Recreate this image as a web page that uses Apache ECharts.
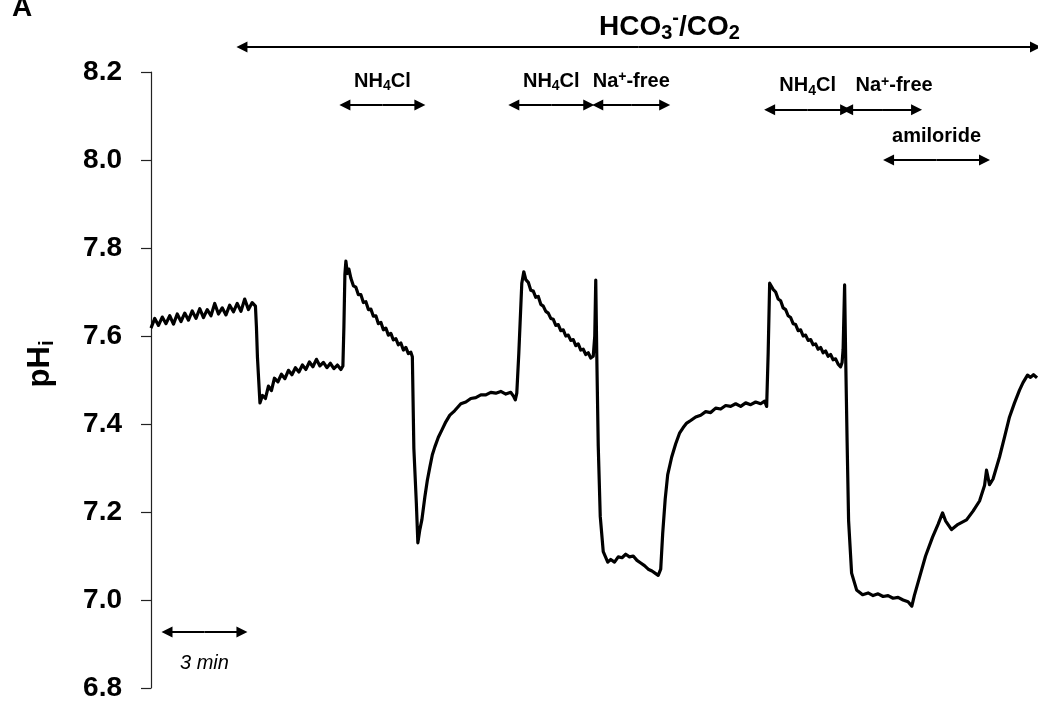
<!DOCTYPE html>
<html>
<head>
<meta charset="utf-8">
<title>pHi trace</title>
<script src="https://cdn.jsdelivr.net/npm/echarts@6/dist/echarts.min.js"></script>
<style>
  html, body { margin: 0; padding: 0; background: #fff; }
  #main { width: 1038px; height: 713px; }
</style>
</head>
<body>
<div id="main"></div>
<script>
// pHi trace, [minutes, pH]
var segBaseline = [
  [0.00,7.618],[0.15,7.640],[0.30,7.624],[0.45,7.643],[0.60,7.628],[0.75,7.646],[0.90,7.627],
  [1.05,7.650],[1.20,7.633],[1.35,7.652],[1.50,7.636],[1.65,7.657],[1.80,7.640],[1.95,7.662],
  [2.10,7.642],[2.25,7.660],[2.40,7.646],[2.55,7.674],[2.70,7.650],[2.85,7.664],[3.00,7.648],
  [3.15,7.670],[3.30,7.655],[3.45,7.674],[3.60,7.656],[3.75,7.684],[3.90,7.660],[4.05,7.676],
  [4.18,7.668]
];
var segCO2 = [
  [4.22,7.620],[4.26,7.552],[4.36,7.448],[4.46,7.465],[4.58,7.458],[4.70,7.486],[4.82,7.476],
  [4.94,7.504],[5.08,7.496],[5.22,7.513],[5.36,7.503],[5.50,7.522],[5.64,7.512],[5.78,7.528],
  [5.92,7.518],[6.06,7.534],[6.20,7.524],[6.34,7.541],[6.48,7.530],[6.62,7.547],[6.76,7.532],
  [6.90,7.540],[7.04,7.528],[7.18,7.538],[7.32,7.526],[7.46,7.534],[7.60,7.524],[7.68,7.532]
];
var segNH4Cl1 = [
  [7.72,7.620],[7.76,7.740],[7.80,7.770],[7.86,7.742],[7.92,7.752],[8.00,7.731],[8.10,7.714],
  [8.20,7.711],[8.30,7.694],[8.40,7.694],[8.50,7.676],[8.60,7.678],[8.70,7.660],[8.80,7.661],
  [8.90,7.645],[9.00,7.646],[9.10,7.628],[9.20,7.631],[9.30,7.614],[9.40,7.618],[9.50,7.602],
  [9.60,7.606],[9.70,7.591],[9.80,7.594],[9.90,7.580],[10.00,7.584],[10.10,7.568],[10.20,7.574],
  [10.30,7.560],[10.40,7.563],[10.46,7.553]
];
var segRecovery1 = [
  [10.52,7.345],[10.62,7.220],[10.68,7.130],[10.76,7.160],[10.84,7.182],[10.96,7.234],[11.06,7.272],
  [11.16,7.302],[11.26,7.330],[11.36,7.348],[11.50,7.370],[11.64,7.386],[11.80,7.405],[11.96,7.420],
  [12.15,7.430],[12.40,7.446],[12.60,7.450],[12.80,7.458],[13.00,7.460],[13.20,7.466],[13.40,7.466],
  [13.60,7.472],[13.80,7.470],[14.00,7.474],[14.20,7.468],[14.40,7.472],[14.52,7.462],[14.58,7.455]
];
var segNH4Cl2 = [
  [14.64,7.470],[14.72,7.560],[14.84,7.720],[14.92,7.746],[15.00,7.728],[15.10,7.722],[15.20,7.704],
  [15.30,7.702],[15.40,7.688],[15.50,7.690],[15.60,7.672],[15.70,7.668],[15.80,7.656],[15.90,7.652],
  [16.00,7.640],[16.10,7.638],[16.20,7.624],[16.30,7.626],[16.40,7.612],[16.50,7.614],[16.60,7.600],
  [16.70,7.602],[16.80,7.590],[16.90,7.592],[17.00,7.578],[17.10,7.582],[17.20,7.568],[17.30,7.570],
  [17.40,7.558],[17.50,7.562],[17.60,7.550],[17.70,7.554]
];
var segNaFree1 = [
  [17.76,7.600],[17.80,7.727],[17.84,7.560],[17.90,7.350],[17.98,7.190],[18.10,7.110],[18.28,7.086],
  [18.40,7.092],[18.55,7.086],[18.70,7.098],[18.85,7.096],[19.00,7.104],[19.15,7.098],[19.30,7.100],
  [19.45,7.090],[19.60,7.084],[19.75,7.078],[19.90,7.070],[20.05,7.066],[20.20,7.060],[20.30,7.056]
];
var segRecovery2 = [
  [20.40,7.070],[20.48,7.152],[20.58,7.230],[20.68,7.285],[20.84,7.325],[21.00,7.355],[21.16,7.380],
  [21.30,7.392],[21.44,7.402],[21.60,7.408],[21.80,7.416],[22.00,7.420],[22.20,7.428],[22.40,7.426],
  [22.60,7.436],[22.80,7.434],[23.00,7.442],[23.20,7.440],[23.40,7.446],[23.60,7.440],[23.80,7.448],
  [24.00,7.444],[24.20,7.450],[24.40,7.446],[24.56,7.452],[24.64,7.440]
];
var segNH4Cl3 = [
  [24.70,7.560],[24.76,7.720],[24.82,7.718],[24.90,7.706],[25.00,7.700],[25.10,7.684],[25.20,7.680],
  [25.30,7.664],[25.40,7.660],[25.50,7.646],[25.60,7.642],[25.70,7.628],[25.80,7.626],[25.90,7.612],
  [26.00,7.614],[26.10,7.600],[26.20,7.602],[26.30,7.590],[26.40,7.592],[26.50,7.580],[26.60,7.582],
  [26.70,7.570],[26.80,7.574],[26.90,7.562],[27.00,7.566],[27.10,7.554],[27.20,7.558],[27.30,7.546],
  [27.40,7.548],[27.50,7.536],[27.60,7.530],[27.66,7.540]
];
var segNaFree2 = [
  [27.70,7.570],[27.76,7.716],[27.80,7.560],[27.86,7.360],[27.92,7.180],[28.04,7.061],[28.24,7.023],
  [28.48,7.012],[28.70,7.016],[28.90,7.010],[29.10,7.014],[29.30,7.008],[29.50,7.010],[29.70,7.004],
  [29.90,7.006],[30.10,7.000],[30.30,6.996],[30.45,6.986],[30.55,7.010],[30.76,7.052],[31.00,7.100],
  [31.28,7.143],[31.50,7.172],[31.68,7.198],[31.80,7.180],[32.04,7.160],[32.30,7.172],[32.64,7.182],
  [32.90,7.202],[33.16,7.225],[33.36,7.260],[33.44,7.295],[33.56,7.262],[33.70,7.275],[33.96,7.325],
  [34.16,7.370],[34.36,7.416],[34.56,7.448],[34.76,7.477],[34.90,7.494],[35.08,7.511],[35.20,7.506],
  [35.32,7.512],[35.46,7.505]
];

// solution changes: [label, start min, end min]
var perfusate = ['HCO3-/CO2', 3.64, 35.4];
var treatments = [
  ['NH4Cl', 7.76, 10.76],
  ['NH4Cl', 14.52, 17.52],
  ['Na+-free', 17.88, 20.56],
  ['NH4Cl', 24.76, 27.8],
  ['Na+-free', 27.88, 30.64],
  ['amiloride', 29.52, 33.36]
];
var scaleBar = ['3 min', 0.64, 3.64];

// layout: pH level of each annotation row
var perfusateLevel = 8.257;
var perfusateLabelAt = 20.75;
var treatmentLevel = [8.125, 8.125, 8.125, 8.114, 8.114, 8.0];
var treatmentDx = [0, 0, 0, 0, 12, 0];
var scaleLevel = 6.927;

var trace = [].concat(segBaseline, segCO2, segNH4Cl1, segRecovery1, segNH4Cl2,
  segNaFree1, segRecovery2, segNH4Cl3, segNaFree2);

var FONT = '"Liberation Sans", Arial, Helvetica, sans-serif';

var richLabels = {
  'NH4Cl': '{b|NH}{s|4}{b|Cl}',
  'Na+-free': '{b|Na}{p|+}{b|-free}',
  'amiloride': '{b|amiloride}',
  'HCO3-/CO2': '{h|HCO}{hs|3}{hp|-}{h|/CO}{hs|2}',
  '3 min': '{it|3 min}'
};
var richStyles = {
  b: { fontFamily: FONT, fontWeight: 'bold', fontSize: 20, color: '#000' },
  s: { fontFamily: FONT, fontWeight: 'bold', fontSize: 14, color: '#000', padding: [11, 0, 0, 0] },
  p: { fontFamily: FONT, fontWeight: 'bold', fontSize: 14, color: '#000', padding: [0, 0, 8, 0] },
  h: { fontFamily: FONT, fontWeight: 'bold', fontSize: 28, color: '#000' },
  hs: { fontFamily: FONT, fontWeight: 'bold', fontSize: 20, color: '#000', padding: [14, 0, 0, 0] },
  hp: { fontFamily: FONT, fontWeight: 'bold', fontSize: 20, color: '#000', padding: [0, 0, 16, 0] },
  it: { fontFamily: FONT, fontStyle: 'italic', fontSize: 20, color: '#000' },
  m: { fontFamily: FONT, fontWeight: 'bold', fontSize: 31, color: '#000' },
  mi: { fontFamily: FONT, fontWeight: 'bold', fontSize: 20, color: '#000', padding: [14, 0, 0, 0] }
};

// each double arrow = two half lines from the middle outwards, arrowhead at the far end
var arrowData = [];
function addArrow(t0, t1, level) {
  var mid = (t0 + t1) / 2;
  arrowData.push({ coords: [[mid, level], [t0, level]] });
  arrowData.push({ coords: [[mid, level], [t1, level]] });
}
addArrow(perfusate[1], perfusate[2], perfusateLevel);
treatments.forEach(function (d, i) { addArrow(d[1], d[2], treatmentLevel[i]); });
addArrow(scaleBar[1], scaleBar[2], scaleLevel);

var chart = echarts.init(document.getElementById('main'));

chart.setOption({
  animation: false,
  backgroundColor: '#fff',
  grid: { left: 151, right: 0, top: 72, bottom: 25 },
  xAxis: {
    type: 'value', min: 0, max: 35.5, show: false
  },
  yAxis: {
    type: 'value', min: 6.8, max: 8.2, interval: 0.2,
    axisLine: { show: true, lineStyle: { color: '#222', width: 1.2 } },
    axisTick: { show: true, inside: false, length: 10, lineStyle: { color: '#222', width: 1.2 } },
    splitLine: { show: false },
    axisLabel: {
      margin: 29, color: '#000', fontFamily: FONT, fontWeight: 'bold', fontSize: 28,
      formatter: function (v) { return v.toFixed(1); }
    }
  },
  series: [
    {
      type: 'line',
      data: trace,
      symbol: 'none',
      lineStyle: { color: '#000', width: 3.2, join: 'round' },
      silent: true
    },
    {
      type: 'lines',
      coordinateSystem: 'cartesian2d',
      clip: false,
      silent: true,
      symbol: ['none', 'triangle'],
      symbolSize: [10, 11],
      lineStyle: { color: '#000', width: 2, opacity: 1, curveness: 0 },
      itemStyle: { color: '#000' },
      data: arrowData
    }
  ]
});

function px(t, v) { return chart.convertToPixel({ gridIndex: 0 }, [t, v]); }

var texts = [
  { type: 'text', left: 12, top: -6,
    style: { text: 'A', fontFamily: FONT, fontWeight: 'bold', fontSize: 28, fill: '#000' } },
  { type: 'text', x: 40, y: 364, rotation: Math.PI / 2,
    style: { text: '{m|pH}{mi|i}', rich: richStyles, align: 'center', verticalAlign: 'middle' } }
];
var hp = px(perfusateLabelAt, perfusateLevel);
texts.push({ type: 'text', x: hp[0], y: hp[1] - 20,
  style: { text: richLabels[perfusate[0]], rich: richStyles, align: 'center', verticalAlign: 'middle' } });
treatments.forEach(function (d, i) {
  var p = px((d[1] + d[2]) / 2, treatmentLevel[i]);
  texts.push({ type: 'text', x: p[0] + treatmentDx[i], y: p[1] - 24,
    style: { text: richLabels[d[0]], rich: richStyles, align: 'center', verticalAlign: 'middle' } });
});
var sp = px((scaleBar[1] + scaleBar[2]) / 2, scaleLevel);
texts.push({ type: 'text', x: sp[0], y: sp[1] + 31,
  style: { text: richLabels[scaleBar[0]], rich: richStyles, align: 'center', verticalAlign: 'middle' } });

chart.setOption({ graphic: texts });
</script>
</body>
</html>
